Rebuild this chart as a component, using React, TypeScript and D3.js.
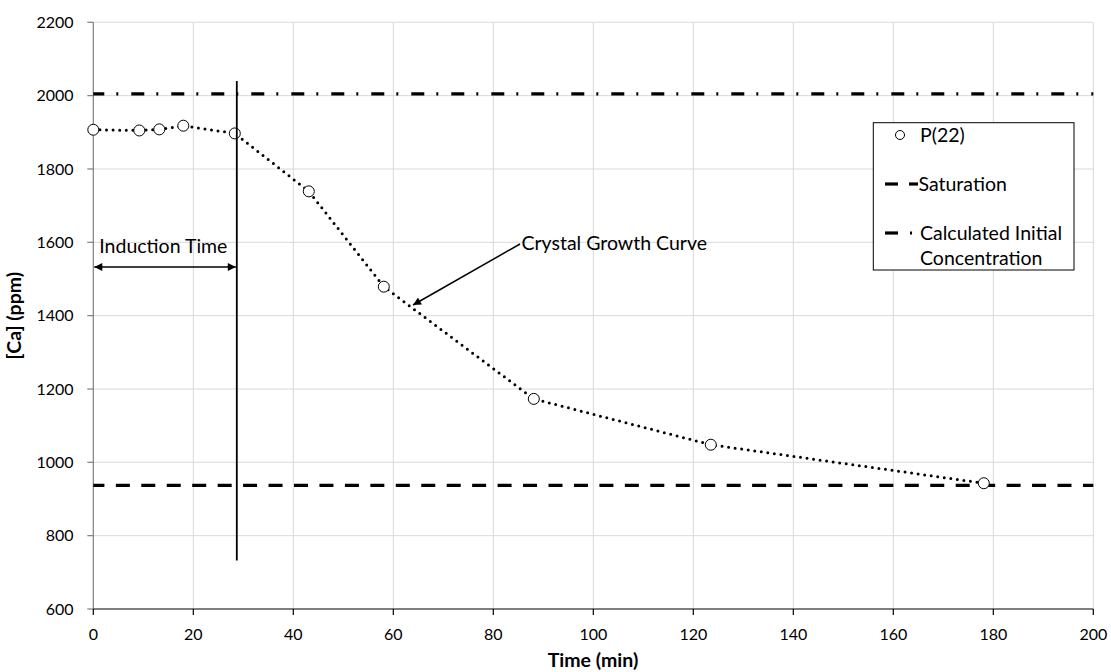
import React from "react";
import * as d3 from "d3";

// Sampled calcium concentration over time
const timeMin = [0, 9.2, 13.2, 18, 28.3, 43.1, 58.1, 88.1, 123.5, 178.1];
const caPpm = [1907, 1905, 1908, 1918, 1897, 1739, 1479, 1173, 1048, 943];

// Reference levels
const saturationPpm = 937;
const initialPpm = 2005;

// Induction time marker
const inductionMin = 28.7;
const inductionSpan = [732, 2040];

const xTicks = [0, 20, 40, 60, 80, 100, 120, 140, 160, 180, 200];
const yTicks = [600, 800, 1000, 1200, 1400, 1600, 1800, 2000, 2200];

const W = 1111;
const H = 672;
const FONT = "Lato, 'Open Sans', sans-serif";

export default function App() {
  const x = d3.scaleLinear().domain([0, 200]).range([93.3, 1093.3]);
  const y = d3.scaleLinear().domain([600, 2200]).range([609, 22.3]);

  const pts = timeMin.map((t, i) => [t, caPpm[i]] as [number, number]);
  const curve = d3
    .line<[number, number]>()
    .x((d) => x(d[0]))
    .y((d) => y(d[1]))(pts);

  const x0 = x(0);
  const x1 = x(200);
  const yBottom = y(600);

  const indX = x(inductionMin);
  const arrowY = 267;

  return (
    <svg
      width={W}
      height={H}
      style={{ position: "absolute", left: 0, top: 0, background: "#fff" }}
      fontFamily={FONT}
    >
      <defs>
        <marker id="ah" viewBox="0 0 10 10" refX="10" refY="5" markerWidth="9" markerHeight="8" markerUnits="userSpaceOnUse" orient="auto-start-reverse">
          <path d="M0,0 L10,5 L0,10 z" fill="#000" />
        </marker>
      </defs>
      <rect x={0} y={0} width={W} height={H} fill="#fff" />

      {/* gridlines */}
      {xTicks.slice(1).map((t) => (
        <line key={"gx" + t} x1={x(t)} x2={x(t)} y1={y(2200)} y2={yBottom} stroke="#d9d9d9" strokeWidth={1} />
      ))}
      {yTicks.slice(1).map((t) => (
        <line key={"gy" + t} x1={x0} x2={x1} y1={y(t)} y2={y(t)} stroke="#d9d9d9" strokeWidth={1} />
      ))}

      {/* axes */}
      <line x1={x0} x2={x0} y1={y(2200)} y2={yBottom} stroke="#7f7f7f" strokeWidth={1.2} />
      {yTicks.map((t) => (
        <g key={"yt" + t}>
          <line x1={x0 - 6} x2={x0} y1={y(t)} y2={y(t)} stroke="#7f7f7f" strokeWidth={1.2} />
          <text x={73.5} y={y(t)} dy="0.35em" textAnchor="end" fontSize={16} fill="#000">
            {t}
          </text>
        </g>
      ))}
      <line x1={x0} x2={x1} y1={yBottom} y2={yBottom} stroke="#000" strokeWidth={1.2} />
      {xTicks.map((t) => (
        <g key={"xt" + t}>
          <line x1={x(t)} x2={x(t)} y1={yBottom} y2={yBottom + 6} stroke="#000" strokeWidth={1.2} />
          <text x={x(t)} y={634} dy="0.35em" textAnchor="middle" fontSize={16} fill="#000">
            {t}
          </text>
        </g>
      ))}

      {/* axis titles */}
      <text x={593} y={660} dy="0.35em" textAnchor="middle" fontSize={19.5} fontWeight="bold">
        Time (min)
      </text>
      <text
        transform={`translate(14, ${y(1400)}) rotate(-90)`}
        dy="0.35em"
        textAnchor="middle"
        fontSize={19.5}
        fontWeight="bold"
      >
        [Ca] (ppm)
      </text>

      {/* reference lines */}
      <line
        x1={x0}
        x2={x1}
        y1={y(initialPpm)}
        y2={y(initialPpm)}
        stroke="#000"
        strokeWidth={3.2}
        strokeDasharray="13 12 2 13"
        strokeDashoffset={2}
      />
      <line
        x1={x0}
        x2={x1}
        y1={y(saturationPpm)}
        y2={y(saturationPpm)}
        stroke="#000"
        strokeWidth={3.2}
        strokeDasharray="14 11.45"
        strokeDashoffset={2.9}
      />

      {/* growth curve through the samples */}
      <path d={curve ?? ""} fill="none" stroke="#000" strokeWidth={3} strokeLinecap="round" strokeDasharray="0 6.6" />

      {/* samples */}
      {pts.map((d, i) => (
        <circle key={"p" + i} cx={x(d[0])} cy={y(d[1])} r={5.5} fill="#fff" stroke="#000" strokeWidth={1} />
      ))}

      {/* induction time marker */}
      <line x1={indX} x2={indX} y1={y(inductionSpan[1])} y2={y(inductionSpan[0])} stroke="#000" strokeWidth={1.8} />
      <line
        x1={x0 + 1}
        x2={indX - 1}
        y1={arrowY}
        y2={arrowY}
        stroke="#000"
        strokeWidth={1.5}
        markerStart="url(#ah)"
        markerEnd="url(#ah)"
      />
      <text x={x0 + 6} y={246.5} dy="0.35em" fontSize={19.5}>
        Induction Time
      </text>

      {/* crystal growth annotation */}
      <line x1={520} y1={244} x2={413} y2={305} stroke="#000" strokeWidth={1.5} markerEnd="url(#ah)" />
      <text x={521.5} y={243} dy="0.35em" fontSize={19.5}>
        Crystal Growth Curve
      </text>

      {/* legend */}
      <rect x={873.3} y={122.7} width={200.7} height={147.3} fill="#fff" stroke="#000" strokeWidth={1} />
      <circle cx={900} cy={135} r={4.5} fill="#fff" stroke="#000" strokeWidth={1} />
      <text x={920} y={135} dy="0.35em" fontSize={19.5}>
        P(22)
      </text>
      <line x1={885} x2={898} y1={184} y2={184} stroke="#000" strokeWidth={3.2} />
      <line x1={909} x2={918} y1={184} y2={184} stroke="#000" strokeWidth={3.2} />
      <text x={918.5} y={184} dy="0.35em" fontSize={19.5}>
        Saturation
      </text>
      <line x1={885} x2={898} y1={233} y2={233} stroke="#000" strokeWidth={3.2} />
      <line x1={910} x2={912} y1={233} y2={233} stroke="#000" strokeWidth={3.2} />
      <text x={920} y={233} dy="0.35em" fontSize={19.5}>
        Calculated Initial
      </text>
      <text x={920} y={258} dy="0.35em" fontSize={19.5}>
        Concentration
      </text>
    </svg>
  );
}
